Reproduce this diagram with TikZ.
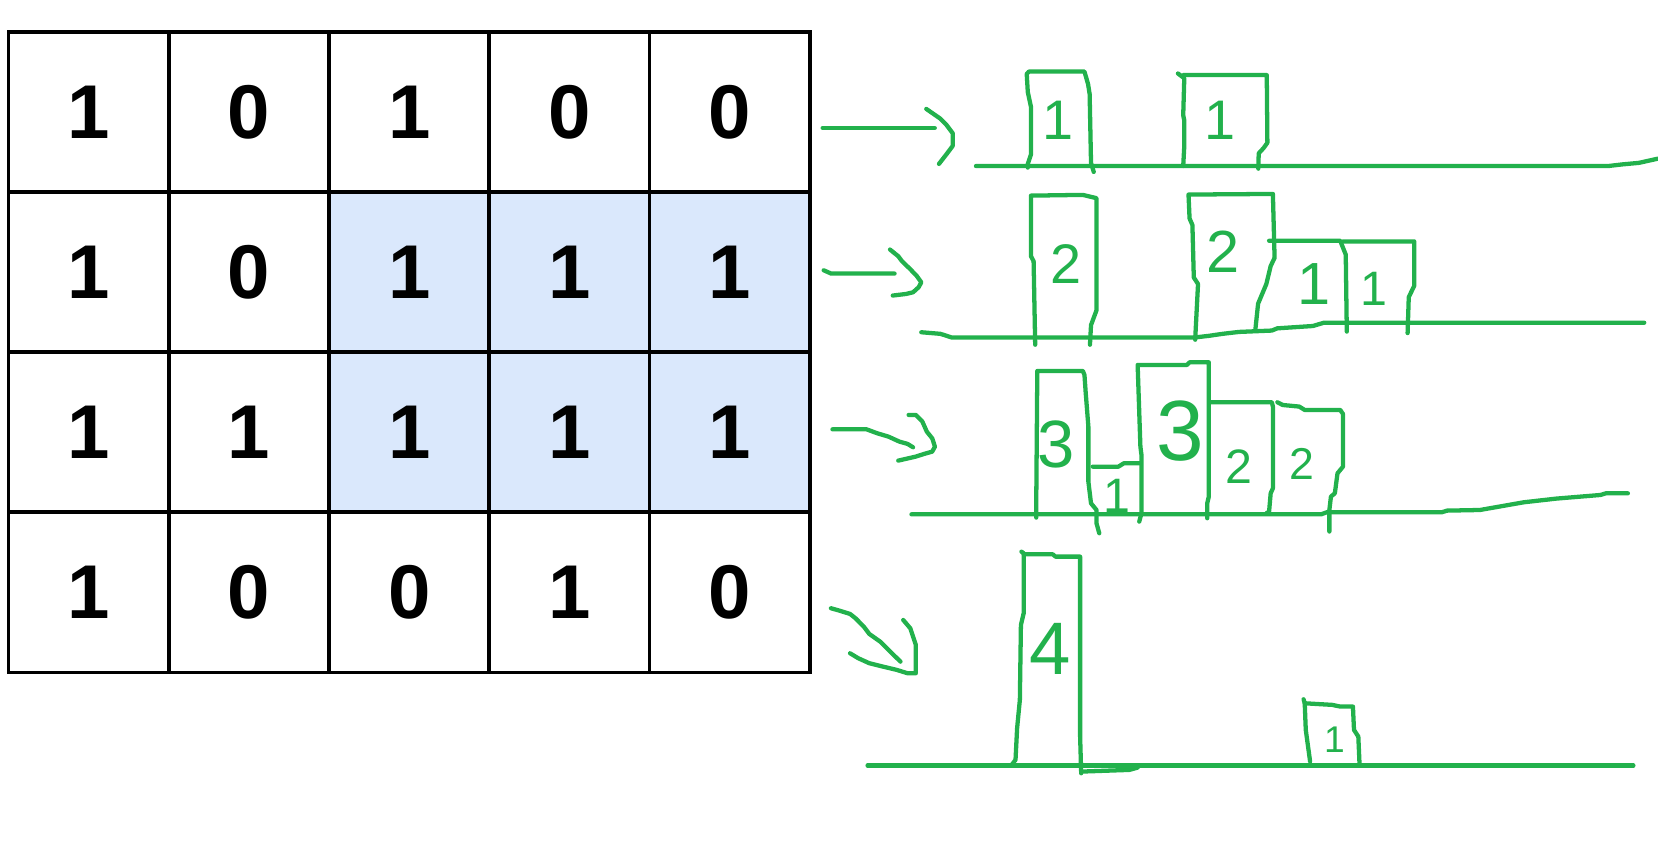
\documentclass[tikz,border=0pt]{standalone}
\usepackage{fontspec}
\usepackage{tikz}
\usetikzlibrary{positioning}
\newfontfamily\gridfont{Liberation Sans}
\newfontfamily\penfont{Liberation Sans}
\definecolor{hlblue}{HTML}{DAE8FC}
\definecolor{paintgreen}{HTML}{22B14C}

\begin{document}
\begin{tikzpicture}[x=0.01cm, y=-0.01cm,
        cell/.style={draw=black, line width=1pt, minimum width=1.516cm, minimum height=1.515cm,
            inner sep=0pt, outer sep=0pt, font=\gridfont\bfseries\fontsize{20.5}{20.5}\selectfont},
        sketch/.style={draw=paintgreen, line width=1.15pt, line cap=round, line join=round},
        tag/.style={text=paintgreen, inner sep=0pt, font=\penfont\fontsize{#1}{#1}\selectfont},
        tag/.default=15]
        \useasboundingbox (0,0) rectangle (1568,808);

        % Matrix
        \foreach \vals [count=\r] in {{1,0,1,0,0},{1,0,1,1,1},{1,1,1,1,1},{1,0,0,1,0}} {
            \foreach \v [count=\c] in \vals {
                \pgfmathtruncatemacro\shade{and(and(\r>1,\r<4),\c>2)}
                \ifnum\shade=1 \def\cellfill{hlblue}\else\def\cellfill{white}\fi
                \node[cell, fill=\cellfill] (c\r\c) at ({8+151.6*(\c-0.5)},{30+151.5*(\r-0.5)}) {\v};
            }
        }

        % Row 1 heights
        \draw[sketch] (778,121) -- (884,121);
        \draw[sketch] (876,103) -- (889,112) -- (895,118) -- (901,126) -- (901,138) -- (895,146) -- (888,155);
        \draw[sketch] (923,157) -- (1521,157) -- (1534,155.5) -- (1550,154) -- (1568,150);
        \draw[sketch] (972,158.5) -- (972,155) -- (975,146) -- (975,101) -- (972,87) -- (971,70) -- (973,67.7)
            -- (1025.6,67.7) -- (1029,79.5) -- (1030.5,89) -- (1031.8,154) -- (1034.4,162.6);
        \draw[sketch] (1119,157) -- (1120,138) -- (1120,114) -- (1119,109) -- (1120,74) -- (1114,69.5);
        \draw[sketch] (1119,71) -- (1198,71) -- (1198.6,135) -- (1195,140) -- (1190.4,145) -- (1190,159.5);
        \node[tag] (h11) at (1001,114) {1};
        \node[tag] (h12) at (1154,114) {1};

        % Row 2 heights
        \draw[sketch] (779,255.6) -- (786,258.7) -- (846,258.7);
        \draw[sketch] (841.7,236) -- (849.5,242.3) -- (853,247) -- (861,254.7) -- (867,261) -- (871.3,267)
            -- (868.7,271.7) -- (863.5,276.4) -- (856.8,278) -- (844.3,279.5);
        \draw[sketch] (871.3,314.2) -- (889.4,315.7) -- (899.8,319.1) -- (1130.3,319.1) -- (1143.2,317.6)
            -- (1156.2,315.7) -- (1171.7,313.9) -- (1202.8,312.6) -- (1208,310.5) -- (1241.6,308.3)
            -- (1252,305.2) -- (1555,305.2);
        \draw[sketch] (979,326) -- (977.5,247) -- (975,242.3) -- (975,185) -- (1024,184.3) -- (1037,187.4)
            -- (1037,293.4) -- (1031.8,307.4) -- (1030.8,326);
        \draw[sketch] (1130.3,321.3) -- (1133,268.6) -- (1129,262.4) -- (1127.7,212.8) -- (1125,206.6)
            -- (1124,184) -- (1203.8,183.4) -- (1205.4,243.8) -- (1201.7,251.6) -- (1197.6,268.6)
            -- (1189.8,287.2) -- (1187.2,312);
        \draw[sketch] (1200.2,227.7) -- (1267.5,227.7) -- (1272.7,240.7) -- (1273.7,313.6);
        \draw[sketch] (1270,228.3) -- (1337.5,228.3) -- (1337.5,270.2) -- (1332.3,281) -- (1331.2,315);
        \node[tag] (h21) at (1008,250) {2};
        \node[tag=16] (h22) at (1157,238) {2};
        \node[tag=16] (h23) at (1243,269) {1};
        \node[tag=13] (h24) at (1299,273) {1};

        % Row 3 heights
        \draw[sketch] (787.3,406) -- (819.5,406) -- (829.8,409.8) -- (840.2,412.9) -- (850.5,417.6)
            -- (858.3,419.8) -- (863.5,423);
        \draw[sketch] (859.3,392.4) -- (866.1,392.4) -- (872.3,398.7) -- (876.5,408.2) -- (881.6,414.5)
            -- (884.2,422.4) -- (881.6,427.1) -- (873.9,429.3) -- (866.1,431.8) -- (849.5,435.6);
        \draw[sketch] (862,486.4) -- (1249.4,486.4) -- (1254.6,484.5) -- (1363.4,484.5) -- (1368.5,482.9)
            -- (1399.6,482.3) -- (1417.8,479.1) -- (1441.1,475) -- (1472.1,471.5) -- (1513.6,468.1)
            -- (1518.8,466.5) -- (1539.5,466.5);
        \draw[sketch] (980,489.5) -- (980,476) -- (981,350.8) -- (1024.1,350.8) -- (1025.6,354.6)
            -- (1026.7,370.4) -- (1029.3,403.5) -- (1029.3,455.5) -- (1031.8,476) -- (1037,482.3)
            -- (1037,494.9) -- (1039.6,504.3);
        \draw[sketch] (1033.4,441.3) -- (1057.7,441.3) -- (1062.9,438.1) -- (1078.5,438.1);
        \draw[sketch] (1077.4,493.3) -- (1079.5,485.4) -- (1079.5,430.2) -- (1078.5,422.4) -- (1075.9,345.1)
            -- (1122.5,345.1) -- (1125.1,342.6) -- (1143.2,342.6) -- (1143.2,469.6) -- (1141.7,476)
            -- (1141.7,490.1);
        \draw[sketch] (1145.8,380.4) -- (1202.8,380.4) -- (1203.8,384.5) -- (1203.8,461.8) -- (1201.7,466.5)
            -- (1200.2,483.8) -- (1197.6,485.4);
        \draw[sketch] (1208,380.4) -- (1213.1,383) -- (1228.7,384.5) -- (1233.9,387.7) -- (1267.5,387.7)
            -- (1270.1,391.5) -- (1270.1,441.3) -- (1264.9,447.6) -- (1262.4,466.5) -- (1258.7,469.6)
            -- (1257.2,482.3) -- (1257.2,502.7);
        \node[tag=18] (h31) at (999,420) {3};
        \node[tag=13] (h32) at (1056,469) {1};
        \node[tag=23] (h33) at (1116,408) {3};
        \node[tag=13] (h34) at (1172,441) {2};
        \node[tag=12] (h35) at (1231,439) {2};

        % Row 4 heights
        \draw[sketch] (785.8,575.2) -- (793.6,577.4) -- (803.9,580.6) -- (809.1,584.7) -- (816.9,592.6)
            -- (822.1,599.5) -- (832.4,606.8) -- (840.2,614.6) -- (851.6,625.7);
        \draw[sketch] (854.2,586.3) -- (860.9,594.2) -- (863.5,602) -- (866.1,609.9) -- (866.1,636.7)
            -- (858.3,636.7) -- (848,633.5) -- (835,630.4) -- (822.1,627.2) -- (811.7,622.5) -- (803.9,617.8);
        \draw[sketch] (820.5,724) -- (1544.7,724);
        \draw[sketch] (956.7,723.4) -- (960.4,718.6) -- (961.9,688.7) -- (964.5,661.9) -- (965.5,591)
            -- (968.1,580) -- (968.1,523.2) -- (966,521.7);
        \draw[sketch] (968.1,524.2) -- (995.6,524.2) -- (998.2,526.4) -- (1021.5,526.4) -- (1021.5,696.6)
            -- (1022.5,731.3);
        \draw[sketch] (1022.5,729.7) -- (1068.1,728.1) -- (1075.9,725.9);
        \draw[sketch] (1239,720.2) -- (1234.9,690.3) -- (1233.9,665.1) -- (1232.8,661.3);
        \draw[sketch] (1233.9,665.1) -- (1259.8,666.6) -- (1267.5,668.2) -- (1279.5,668.2) -- (1280.5,690.3)
            -- (1284.6,696.6) -- (1285.7,721.8);
        \node[tag=20] (h41) at (993,614) {4};
        \node[tag=10] (h42) at (1262,700) {1};
    \end{tikzpicture}
\end{document}
